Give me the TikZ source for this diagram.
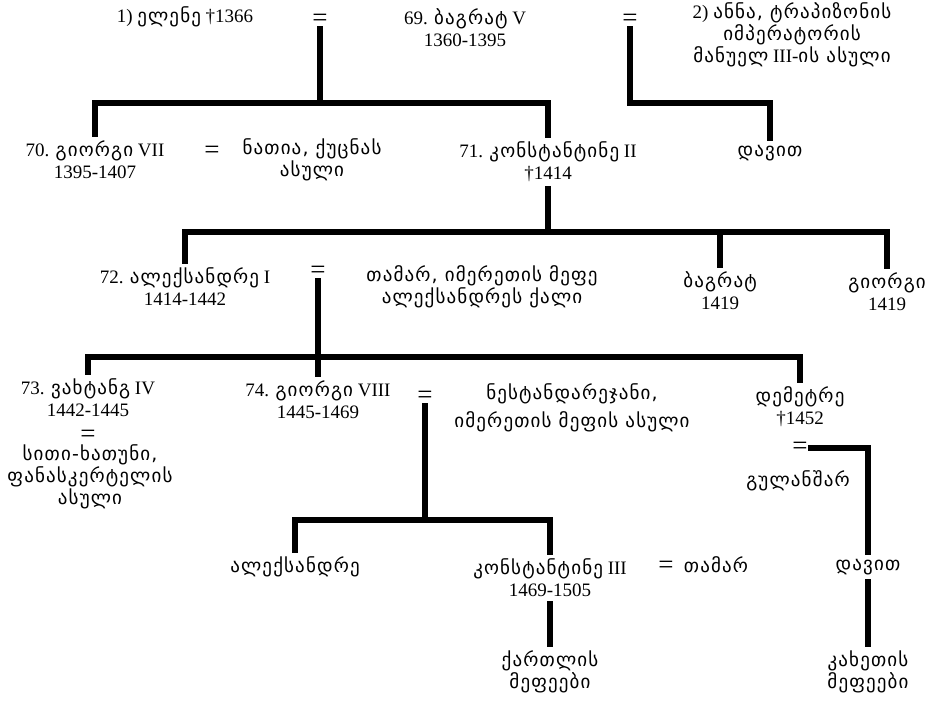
\documentclass[tikz,border=0pt]{standalone}
\usepackage{fontspec}
\setmainfont{Liberation Serif}
\newfontfamily\geo{DejaVu Sans}[Scale=1.0,LetterSpace=6]
\begin{document}
\begin{tikzpicture}[x=1pt,y=-1pt,
  person/.style={align=center, inner sep=4pt, font=\fontsize{19}{22}\selectfont},
  wed/.style={inner sep=0pt, font=\fontsize{27}{27}\selectfont},
  bar/.style={line width=6pt, line join=miter}]
\useasboundingbox[fill=white] (0,0) rectangle (935,703);

% generation of Bagrat V
\node[person] (elene) at (185,17) {1)~{\geo ელენე} †1366};
\node[wed] (eq1) at (320,20) {=};
\node[person] (bagrat5) at (465,28) {69. {\geo ბაგრატ} V\\1360-1395};
\node[wed] (eq2) at (630,20) {=};
\node[person] (anna) at (792,35) {2) {\geo ანნა, ტრაპიზონის}\\{\geo იმპერატორის}\\{\geo მანუელ} III-{\geo ის ასული}};

% children of Bagrat V
\node[person] (g7) at (95,160) {70. {\geo გიორგი} VII\\1395-1407};
\node[wed] (eq3) at (212,152) {=};
\node[person] (natia) at (312,160) {{\geo ნათია, ქუცნას}\\{\geo ასული}};
\node[person] (k2) at (548,162) {71. {\geo კონსტანტინე} II\\†1414};
\node[person] (david1) at (770,153) {\geo დავით};

\coordinate (j1) at (320,103);
\coordinate (j2) at (630,103);
\draw[bar] (eq1.south) -- (j1);
\draw[bar] (g7.north) |- (j1) -| (k2.north);
\draw[bar] (eq2.south) -- (j2) -| (david1.north);

% children of Constantine II
\node[person] (alex1) at (185,287) {72. {\geo ალექსანდრე} I\\1414-1442};
\node[wed] (eq4) at (318,272) {=};
\node[person] (tamar1) at (482,287) {{\geo თამარ, იმერეთის მეფე}\\{\geo ალექსანდრეს ქალი}};
\node[person] (bagrat) at (720,291) {{\geo ბაგრატ}\\1419};
\node[person] (giorgi) at (887,292) {{\geo გიორგი}\\1419};

\coordinate (j3) at (548,232);
\draw[bar] (k2.south) -- (j3);
\draw[bar] (alex1.north) |- (j3) -| (giorgi.north);
\draw[bar] (bagrat.north) -- (bagrat.north |- j3);

% children of Alexander I
\node[person] (vakht) at (88,398) {73. {\geo ვახტანგ} IV\\1442-1445};
\node[wed] (eq6) at (88,436) {=};
\node[person] (siti) at (90,477) {{\geo სითი-ხათუნი,}\\{\geo ფანასკერტელის}\\{\geo ასული}};
\node[person] (g8) at (318,400) {74. {\geo გიორგი} VIII\\1445-1469};
\node[wed] (eq7) at (425,397) {=};
\node[person] (nestan) at (572,408) {{\geo ნესტანდარეჯანი,}\\[6pt]{\geo იმერეთის მეფის ასული}};
\node[person] (demetre) at (800,407) {{\geo დემეტრე}\\†1452};
\node[wed] (eq8) at (800,448) {=};
\node[person] (gulan) at (798,481) {\geo გულანშარ};

\coordinate (j4) at (318,357);
\draw[bar] (eq4.south) -- (j4);
\draw[bar] (vakht.north) |- (j4) -| (demetre.north);
\draw[bar] (g8.north) -- (g8.north |- j4);

% children of George VIII and Demetrius
\node[person] (alex2) at (295,567) {\geo ალექსანდრე};
\node[person] (k3) at (550,578) {{\geo კონსტანტინე} III\\1469-1505};
\node[wed] (eq9) at (666,567) {=};
\node[person] (tamar2) at (716,565) {\geo თამარ};
\node[person] (david2) at (868,567) {\geo დავით};

\coordinate (j5) at (425,520);
\draw[bar] (eq7.south) -- (j5);
\draw[bar] (alex2.north) |- (j5) -| (k3.north);
\draw[bar] (eq8.east) -| (david2.north);

% descendant lines
\node[person] (kartli) at (550,672) {{\geo ქართლის}\\{\geo მეფეები}};
\node[person] (kakheti) at (868,672) {{\geo კახეთის}\\{\geo მეფეები}};
\draw[bar] (k3.south) -- (kartli.north);
\draw[bar] (david2.south) -- (kakheti.north);
\end{tikzpicture}
\end{document}
